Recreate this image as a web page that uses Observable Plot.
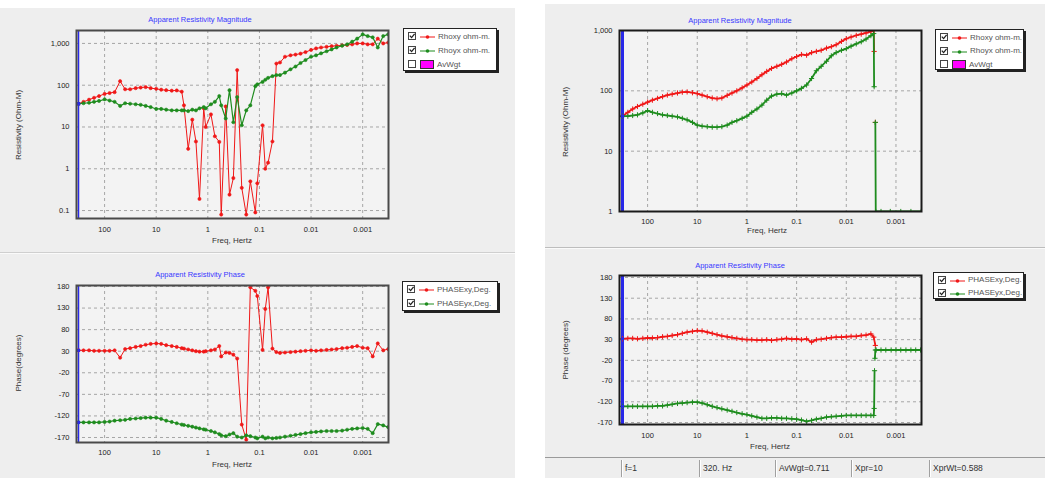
<!DOCTYPE html>
<html><head><meta charset="utf-8">
<script src="https://cdn.jsdelivr.net/npm/d3@7"></script>
<script src="https://cdn.jsdelivr.net/npm/@observablehq/plot@0.6"></script>
<style>
body{margin:0;background:#fff;width:1045px;height:478px;overflow:hidden;font-family:"Liberation Sans",Arial,sans-serif;}
#root{position:relative;width:1045px;height:478px;overflow:hidden;}
.panel{position:absolute;background:#eeeeee;}
.hline{position:absolute;height:1px;background:#c4c4c4;}
.chart{position:absolute;}
.title{position:absolute;color:#3838ff;font-size:7.5px;transform:translate(-50%,-50%);white-space:nowrap;}
.xlab{position:absolute;color:#333;font-size:8px;transform:translate(-50%,-50%);white-space:nowrap;}
.ylab{position:absolute;color:#333;font-size:8px;transform:translate(-50%,-50%) rotate(-90deg);white-space:nowrap;}
.legend{position:absolute;background:#fff;border:1px solid #222;box-shadow:2px 2px 0 #222;box-sizing:border-box;}
.lrow{position:absolute;left:4px;height:10px;display:flex;align-items:center;font-size:8px;color:#555;white-space:nowrap;}
.cb{width:8px;height:8px;border:1px solid #444;background:#fff;box-sizing:border-box;margin-right:4px;position:relative;}
.status{position:absolute;left:545px;top:457px;width:500px;height:21px;background:#eeeeee;border-top:1px solid #9a9a9a;}
.cell{position:absolute;top:2px;height:17px;border-left:1px solid #a0a0a0;box-shadow:inset 1px 0 0 #fff;font-size:8.5px;color:#333;line-height:17px;padding-left:3px;white-space:nowrap;}
</style>
</head><body><div id="root"></div>
<script>
// ---------------- data ----------------
const START_FREQ = 320;
const X_TICKS = [100, 10, 1, 0.1, 0.01, 0.001];
const X_TICK_LABELS = ["100", "10", "1", "0.1", "0.01", "0.001"];
const RHO_TICKS_L = [1000, 100, 10, 1, 0.1];
const RHO_LABELS_L = ["1,000", "100", "10", "1", "0.1"];
const RHO_TICKS_R = [1000, 100, 10, 1];
const RHO_LABELS_R = ["1,000", "100", "10", "1"];
const PH_TICKS = [180, 130, 80, 30, -20, -70, -120, -170];
const PH_LABELS = ["180", "130", "80", "30", "-20", "-70", "-120", "-170"];

// left sounding frequencies (Hz)
const LF = [320, 256, 200, 160, 128, 100, 80, 64, 50, 40,
  32, 25, 20, 16, 12.8, 10, 8, 6.4, 5, 4,
  3.2, 2.9, 2.4, 2.0, 1.7, 1.45, 1.2, 1.1, 0.87, 0.73,
  0.6, 0.55, 0.45, 0.38, 0.32, 0.27, 0.22, 0.18, 0.15, 0.12,
  0.11, 0.087, 0.077, 0.068, 0.056, 0.047, 0.04, 0.032, 0.025, 0.02,
  0.016, 0.0128, 0.01, 0.008, 0.0064, 0.005, 0.004, 0.0032, 0.0025, 0.002,
  0.0016, 0.00128, 0.001, 0.0008, 0.00064, 0.00051, 0.0004, 0.00032];
const L_RHOXY = [36, 40, 45, 50, 55, 62, 65, 68, 125, 80,
  80, 85, 88, 90, 85, 82, 78, 76, 74, 75,
  70, 33, 3, 15, 4.5, 0.19, 28, 10, 20, 6,
  4.4, 0.08, 31, 0.24, 0.6, 230, 0.35, 0.08, 0.5, 0.09,
  0.45, 11, 1.0, 1.4, 4.5, 330, 350, 480, 520, 540,
  570, 620, 700, 760, 800, 830, 860, 880, 900, 920,
  950, 1000, 1000, 950, 950, 1300, 1000, 1050];
const L_RHOYX = [36, 37, 38, 40, 42, 46, 43, 40, 32, 37,
  36, 35, 34, 32, 30, 27, 27, 26, 25, 25,
  25, 25, 24, 26, 25, 28, 30, 28, 35, 40,
  55, 33, 16, 76, 13, 52, 11, 25, 33, 95,
  105, 120, 135, 150, 165, 175, 175, 200, 240, 280,
  340, 400, 480, 520, 580, 650, 720, 800, 880, 950,
  1100, 1300, 1650, 1500, 1400, 800, 1500, 1650];
const L_PHXY = [32, 32, 32, 31, 31, 31, 31, 32, 15, 35,
  37, 40, 42, 45, 47, 48, 47, 44, 42, 40,
  37, 36, 34, 32, 30, 29, 29, 30, 32, 34,
  42, 18, 27, 26, 22, 13, -140, -175, 178, 170,
  158, 33, 128, 178, 36, 28, 26, 27, 28, 29,
  30, 31, 32, 31, 32, 33, 34, 35, 37, 38,
  40, 42, 38, 37, 18, 48, 32, 35];
const L_PHYX = [-135, -135, -135, -135, -135, -134, -133, -131, -130, -129,
  -127, -126, -125, -124, -124, -124, -127, -131, -134, -137,
  -140, -141, -143, -145, -147, -149, -151, -152, -155, -158,
  -162, -165, -167, -163, -160, -168, -170, -165, -167, -170,
  -172, -168, -172, -170, -172, -171, -170, -168, -166, -164,
  -162, -160, -158, -157, -156, -155, -155, -155, -154, -152,
  -150, -149, -148, -150, -160, -139, -142, -146];

// right sounding frequencies (Hz)
const RF = [320, 250, 200, 160, 125, 100, 80, 63, 50, 40,
  32, 25, 20, 16, 12.5, 10, 8, 6.3, 5, 4,
  3.2, 2.5, 2, 1.6, 1.25, 1, 0.8, 0.63, 0.5, 0.4,
  0.32, 0.25, 0.2, 0.16, 0.125, 0.1, 0.08, 0.063, 0.05, 0.04,
  0.032, 0.025, 0.02, 0.016, 0.0125, 0.01, 0.008, 0.0063, 0.005, 0.004,
  0.0032, 0.0028];
const R_RHOXY = [38, 44, 50, 55, 60, 65, 70, 75, 80, 85,
  88, 92, 95, 96, 93, 90, 85, 80, 76, 74,
  76, 84, 92, 100, 112, 125, 140, 160, 185, 210,
  235, 255, 275, 300, 340, 370, 400, 390, 430, 450,
  470, 510, 540, 580, 660, 730, 780, 830, 870, 910,
  960, 1000];
const R_RHOXY_TAIL_F = [0.00275, 0.0027, 0.0026];
const R_RHOXY_TAIL = [450, NaN, 30];
const R_RHOYX = [38, 38, 39, 40, 43, 47, 44, 42, 40, 39,
  38, 37, 35, 33, 30, 27, 26, 25.5, 25, 25,
  25.5, 27, 30, 32, 35, 38, 44, 50, 58, 70,
  82, 88, 90, 85, 92, 100, 110, 125, 160, 215,
  255, 310, 380, 430, 470, 500, 550, 600, 650, 720,
  820, 890];
const R_RHOYX_TAIL_F = [0.00275, 0.0027, 0.0026, 0.00255, 0.002, 0.0013, 0.0008, 0.0005, 0.00031];
const R_RHOYX_TAIL = [117, NaN, 30, 1, 1, 1, 1, 1, 1];
const R_PHXY = [32, 33, 33, 32, 33, 34, 34, 35, 37, 38,
  40, 42, 45, 48, 50, 52, 51, 48, 45, 42,
  39, 37, 35, 33, 31, 30, 30, 29, 29, 30,
  28, 30, 31, 33, 31, 32, 30, 32, 24, 30,
  31, 33, 35, 36, 36, 37, 38, 38, 40, 41,
  44, 36];
const R_PHXY_TAIL_F = [0.0026];
const R_PHXY_TAIL = [16];
const R_PHYX = [-131, -131, -131, -131, -131, -131, -131, -130, -130, -128,
  -126, -124, -123, -122, -121, -121, -123, -127, -131, -134,
  -137, -140, -143, -146, -149, -151, -154, -157, -160, -160,
  -159, -159, -160, -160, -161, -162, -164, -167, -165, -162,
  -160, -157, -156, -155, -154, -153, -153, -153, -153, -153,
  -153, -153];
const R_PHYX_TAIL_F = [0.00275, 0.0027, 0.00268, 0.00265, 0.0026, 0.0025, 0.002, 0.0016, 0.00125, 0.001, 0.0008, 0.00063, 0.0005, 0.0004, 0.00032];
const R_PHYX_TAIL = [-136, -45, NaN, -15, 5, 5, 5, 5, 5, 5, 5, 5, 5, 5, 5];

const STATUS = ["f=1", "320. Hz", "AvWgt=0.711", "Xpr=10", "XprWt=0.588"];

const RED = "#f01818", GREEN = "#1e8c1e", BLUE = "#2828e8";

// ---------------- helpers ----------------
const root = document.getElementById("root");
function el(cls, css, text) {
  const d = document.createElement("div");
  d.className = cls;
  Object.assign(d.style, css);
  if (text != null) d.textContent = text;
  root.appendChild(d);
  return d;
}
function pts(fs, vs) { return fs.map((f, i) => ({f, v: vs[i]})); }

function makeChart(cfg) {
  const fmtX = d => X_TICK_LABELS[X_TICKS.indexOf(d)];
  const fmtY = d => cfg.yLabels[cfg.yTicks.indexOf(d)];
  const marks = [
    Plot.frame({fill: "#f3f3f3", stroke: "none"}),
    Plot.gridX(X_TICKS, {stroke: "#a6a6a6", strokeOpacity: 1, strokeDasharray: "3,3"}),
    Plot.gridY(cfg.yTicks, {stroke: "#a6a6a6", strokeOpacity: 1, strokeDasharray: "3,3"}),
    Plot.ruleX([START_FREQ], {stroke: BLUE, strokeWidth: cfg.blueW})
  ];
  for (const s of cfg.series) {
    marks.push(Plot.line(s.data, {x: "f", y: "v", stroke: s.color, strokeWidth: s.w, clip: true}));
    if (cfg.dense) {
      marks.push(Plot.dot(s.data, {x: "f", y: "v", symbol: "plus", r: 1.8, stroke: s.color, strokeWidth: 1, clip: true}));
    } else {
      marks.push(Plot.dot(s.data, {x: "f", y: "v", r: 1.6, fill: s.color, stroke: s.color, strokeWidth: 0.6, clip: true}));
    }
  }
  marks.push(Plot.dot(cfg.series.map(s => s.data[0]), {x: "f", y: "v", r: 1.8, fill: BLUE, symbol: "square"}));
  marks.push(Plot.axisX(X_TICKS, {tickSize: 0, tickPadding: cfg.xPad, tickFormat: fmtX, fontSize: 7.5, label: null}));
  marks.push(Plot.axisY(cfg.yTicks, {tickSize: 0, tickPadding: 7, tickFormat: fmtY, fontSize: 7.5, label: null}));
  marks.push(Plot.frame({stroke: cfg.frameColor, strokeWidth: 2}));
  const svg = Plot.plot({
    width: cfg.w, height: cfg.h,
    marginLeft: cfg.ml, marginRight: cfg.mr, marginTop: cfg.mt, marginBottom: cfg.mb,
    x: {type: "log", domain: cfg.xDomain},
    y: {type: cfg.yType, domain: cfg.yDomain},
    style: {background: "transparent", color: "#222", fontFamily: "Liberation Sans, Arial, sans-serif", fontSize: "7.5px", overflow: "visible"},
    marks
  });
  const wrap = el("chart", {left: cfg.left + "px", top: cfg.top + "px", width: cfg.w + "px", height: cfg.h + "px"});
  wrap.appendChild(svg);
}

function legend(x, y, w, h, rows, rowTop, rowGap) {
  const L = el("legend", {left: x + "px", top: y + "px", width: w + "px", height: h + "px"});
  rows.forEach((r, i) => {
    const row = document.createElement("div");
    row.className = "lrow";
    row.style.top = (rowTop + i * rowGap) + "px";
    const cb = document.createElement("div");
    cb.className = "cb";
    if (r.checked) cb.innerHTML = '<svg width="8" height="8" style="position:absolute;left:-1px;top:-1px"><path d="M1.8 3.6 L3.6 5.6 L6.6 1.8" fill="none" stroke="#222" stroke-width="1.3"/></svg>';
    row.appendChild(cb);
    const s = document.createElement("span");
    s.style.display = "inline-block";
    s.style.marginRight = "3px";
    if (r.swatch) {
      s.style.width = "14px"; s.style.height = "9px"; s.style.background = r.color;
      s.style.border = "1px solid #333"; s.style.boxSizing = "border-box";
    } else {
      s.innerHTML = '<svg width="15" height="6"><line x1="0" y1="3" x2="15" y2="3" stroke="' + r.color + '" stroke-width="1"/><circle cx="7.5" cy="3" r="1.8" fill="' + r.color + '"/></svg>';
      s.style.width = "15px"; s.style.height = "6px";
    }
    row.appendChild(s);
    const t = document.createElement("span");
    t.textContent = r.label;
    row.appendChild(t);
    L.appendChild(row);
  });
}

// ---------------- backgrounds ----------------
el("panel", {left: "0px", top: "8px", width: "515px", height: "470px"});
el("hline", {left: "0px", top: "252px", width: "515px", background: "#cfcfcf"});
el("hline", {left: "0px", top: "253px", width: "515px", background: "#fafafa"});
el("panel", {left: "545px", top: "4px", width: "500px", height: "474px"});
el("hline", {left: "545px", top: "247px", width: "500px", background: "#bdbdbd"});
el("hline", {left: "545px", top: "248px", width: "500px", background: "#fafafa"});

// ---------------- left: magnitude ----------------
makeChart({left: 0, top: 0, w: 400, h: 250, ml: 76, mr: 12, mt: 30, mb: 32,
  xDomain: [350, 0.000316], yType: "log", yDomain: [0.0645, 2040],
  yTicks: RHO_TICKS_L, yLabels: RHO_LABELS_L, xPad: 8, blueW: 1.5, frameColor: "#4a4a4a", dense: false,
  series: [{data: pts(LF, L_RHOXY), color: RED, w: 1}, {data: pts(LF, L_RHOYX), color: GREEN, w: 1.2}]});
el("title", {left: "200px", top: "19px"}, "Apparent Resistivity Magnitude");
el("ylab", {left: "18px", top: "125px"}, "Resistivity (Ohm-M)");
el("xlab", {left: "232px", top: "240px"}, "Freq, Hertz");
legend(403, 28, 94, 43, [
  {checked: true, color: RED, label: "Rhoxy ohm-m."},
  {checked: true, color: GREEN, label: "Rhoyx ohm-m."},
  {checked: false, swatch: true, color: "#ff00ff", label: "AvWgt"}], 2, 14);

// ---------------- left: phase ----------------
makeChart({left: 0, top: 250, w: 400, h: 228, ml: 76, mr: 12, mt: 35, mb: 36,
  xDomain: [350, 0.000316], yType: "linear", yDomain: [-181.6, 182.3],
  yTicks: PH_TICKS, yLabels: PH_LABELS, xPad: 7, blueW: 1.5, frameColor: "#4a4a4a", dense: false,
  series: [{data: pts(LF, L_PHXY), color: RED, w: 1}, {data: pts(LF, L_PHYX), color: GREEN, w: 1.2}]});
el("title", {left: "200px", top: "274px"}, "Apparent Resistivity Phase");
el("ylab", {left: "18px", top: "363px"}, "Phase(degrees)");
el("xlab", {left: "232px", top: "464px"}, "Freq, Hertz");
legend(402, 281, 96, 30, [
  {checked: true, color: RED, label: "PHASExy,Deg."},
  {checked: true, color: GREEN, label: "PHASEyx,Deg."}], 2, 14);

// ---------------- right: magnitude ----------------
makeChart({left: 540, top: 0, w: 400, h: 250, ml: 79, mr: 19, mt: 30, mb: 39,
  xDomain: [368, 0.000306], yType: "log", yDomain: [1, 1000],
  yTicks: RHO_TICKS_R, yLabels: RHO_LABELS_R, xPad: 7, blueW: 3, frameColor: "#1a1a1a", dense: true,
  series: [
    {data: pts(RF.concat(R_RHOXY_TAIL_F), R_RHOXY.concat(R_RHOXY_TAIL)), color: RED, w: 1.8},
    {data: pts(RF.concat(R_RHOYX_TAIL_F), R_RHOYX.concat(R_RHOYX_TAIL)), color: GREEN, w: 1.8}]});
el("title", {left: "740px", top: "20px"}, "Apparent Resistivity Magnitude");
el("ylab", {left: "565px", top: "122px"}, "Resistivity (Ohm-M)");
el("xlab", {left: "767px", top: "230px"}, "Freq, Hertz");
legend(935, 29, 89, 41, [
  {checked: true, color: RED, label: "Rhoxy ohm-m."},
  {checked: true, color: GREEN, label: "Rhoyx ohm-m."},
  {checked: false, swatch: true, color: "#ff00ff", label: "AvWgt"}], 2, 13.5);

// ---------------- right: phase ----------------
makeChart({left: 540, top: 250, w: 400, h: 228, ml: 79, mr: 19, mt: 25, mb: 54,
  xDomain: [368, 0.000306], yType: "linear", yDomain: [-174.8, 184.8],
  yTicks: PH_TICKS, yLabels: PH_LABELS, xPad: 8, blueW: 3, frameColor: "#1a1a1a", dense: true,
  series: [
    {data: pts(RF.concat(R_PHXY_TAIL_F), R_PHXY.concat(R_PHXY_TAIL)), color: RED, w: 1.8},
    {data: pts(RF.concat(R_PHYX_TAIL_F), R_PHYX.concat(R_PHYX_TAIL)), color: GREEN, w: 1.8}]});
el("title", {left: "740px", top: "265px"}, "Apparent Resistivity Phase");
el("ylab", {left: "565px", top: "350px"}, "Phase (degrees)");
el("xlab", {left: "770px", top: "446px"}, "Freq, Hertz");
legend(933, 272, 91, 27, [
  {checked: true, color: RED, label: "PHASExy,Deg."},
  {checked: true, color: GREEN, label: "PHASEyx,Deg."}], 1.5, 13);

// ---------------- status bar ----------------
const bar = el("status", {});
const cellLeft = [621, 699, 775, 851, 929];
const cellW = [75, 73, 73, 75, 110];
STATUS.forEach((t, i) => {
  const c = document.createElement("div");
  c.className = "cell";
  c.style.left = (cellLeft[i] - 545) + "px";
  c.style.width = cellW[i] + "px";
  c.textContent = t;
  bar.appendChild(c);
});
</script>
</body></html>
